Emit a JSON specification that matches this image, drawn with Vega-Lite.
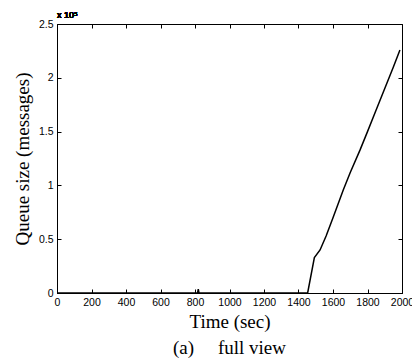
{
  "$schema": "https://vega.github.io/schema/vega-lite/v6.json",
  "width": 345,
  "height": 269,
  "autosize": {"type": "none"},
  "padding": {"left": 57, "top": 24, "right": 10, "bottom": 67},
  "background": "white",
  "config": {
    "view": {"stroke": "black", "strokeWidth": 1},
    "axis": {
      "domainColor": "black",
      "domainWidth": 1,
      "tickColor": "black",
      "tickWidth": 1,
      "labelColor": "black",
      "titleColor": "black",
      "grid": false,
      "labelFont": "Liberation Sans",
      "labelFontSize": 10.5,
      "labelOverlap": false,
      "labelFlush": false,
      "titleFont": "Liberation Serif",
      "titleFontSize": 19,
      "titleFontWeight": "normal"
    }
  },
  "title": {
    "text": "(a)\u00a0\u00a0\u00a0\u00a0\u00a0full view",
    "orient": "bottom",
    "font": "Liberation Serif",
    "fontSize": 19,
    "fontWeight": "normal",
    "color": "black",
    "offset": 7
  },
  "data": {
    "values": [
      {"time": 0, "queue": 0},
      {"time": 815, "queue": 0},
      {"time": 819, "queue": 3500},
      {"time": 823, "queue": 0},
      {"time": 1453, "queue": 0},
      {"time": 1492, "queue": 33000},
      {"time": 1525, "queue": 40000},
      {"time": 1560, "queue": 53000},
      {"time": 1600, "queue": 70000},
      {"time": 1660, "queue": 96000},
      {"time": 1700, "queue": 112000},
      {"time": 1757, "queue": 133000},
      {"time": 1800, "queue": 150000},
      {"time": 1850, "queue": 170000},
      {"time": 1900, "queue": 190000},
      {"time": 1950, "queue": 210000},
      {"time": 1988, "queue": 225800}
    ]
  },
  "layer": [
    {
      "mark": {"type": "line", "color": "black", "strokeWidth": 1.5},
      "encoding": {
        "x": {
          "field": "time",
          "type": "quantitative",
          "scale": {"domain": [0, 2000], "nice": false, "zero": false},
          "axis": {
            "title": "Time (sec)",
            "orient": "bottom",
            "values": [0, 200, 400, 600, 800, 1000, 1200, 1400, 1600, 1800, 2000],
            "format": "d",
            "ticks": false,
            "labelPadding": 4,
            "titlePadding": 5
          }
        },
        "y": {
          "field": "queue",
          "type": "quantitative",
          "scale": {"domain": [0, 250000], "nice": false},
          "axis": {
            "title": "Queue size (messages)",
            "orient": "left",
            "values": [0, 50000, 100000, 150000, 200000, 250000],
            "labelExpr": "format(datum.value / 100000, '')",
            "ticks": false,
            "labelPadding": 4,
            "titlePadding": 6
          }
        }
      }
    },
    {
      "mark": {"type": "line", "opacity": 0},
      "encoding": {
        "x": {
          "field": "time",
          "type": "quantitative",
          "axis": {
            "orient": "top",
            "title": null,
            "labels": false,
            "domain": false,
            "tickSize": 4,
            "offset": -4,
            "values": [0, 200, 400, 600, 800, 1000, 1200, 1400, 1600, 1800, 2000]
          }
        },
        "y": {
          "field": "queue",
          "type": "quantitative",
          "axis": {
            "orient": "right",
            "title": null,
            "labels": false,
            "domain": false,
            "tickSize": 4,
            "offset": -4,
            "values": [0, 50000, 100000, 150000, 200000, 250000]
          }
        }
      }
    },
    {
      "mark": {"type": "line", "opacity": 0},
      "encoding": {
        "x": {
          "field": "time",
          "type": "quantitative",
          "axis": {
            "orient": "bottom",
            "title": null,
            "labels": false,
            "domain": false,
            "tickSize": 4,
            "offset": -4,
            "values": [0, 200, 400, 600, 800, 1000, 1200, 1400, 1600, 1800, 2000]
          }
        },
        "y": {
          "field": "queue",
          "type": "quantitative",
          "axis": {
            "orient": "left",
            "title": null,
            "labels": false,
            "domain": false,
            "tickSize": 4,
            "offset": -4,
            "values": [0, 50000, 100000, 150000, 200000, 250000]
          }
        }
      }
    },
    {
      "mark": {
        "type": "text",
        "align": "left",
        "baseline": "alphabetic",
        "dy": -6,
        "font": "Liberation Sans",
        "fontSize": 9,
        "color": "black"
      },
      "encoding": {
        "x": {"datum": 0, "type": "quantitative", "axis": null},
        "y": {"datum": 250000, "type": "quantitative", "axis": null},
        "text": {"value": "x 10\u2075"}
      }
    }
  ],
  "resolve": {"axis": {"x": "independent", "y": "independent"}}
}
